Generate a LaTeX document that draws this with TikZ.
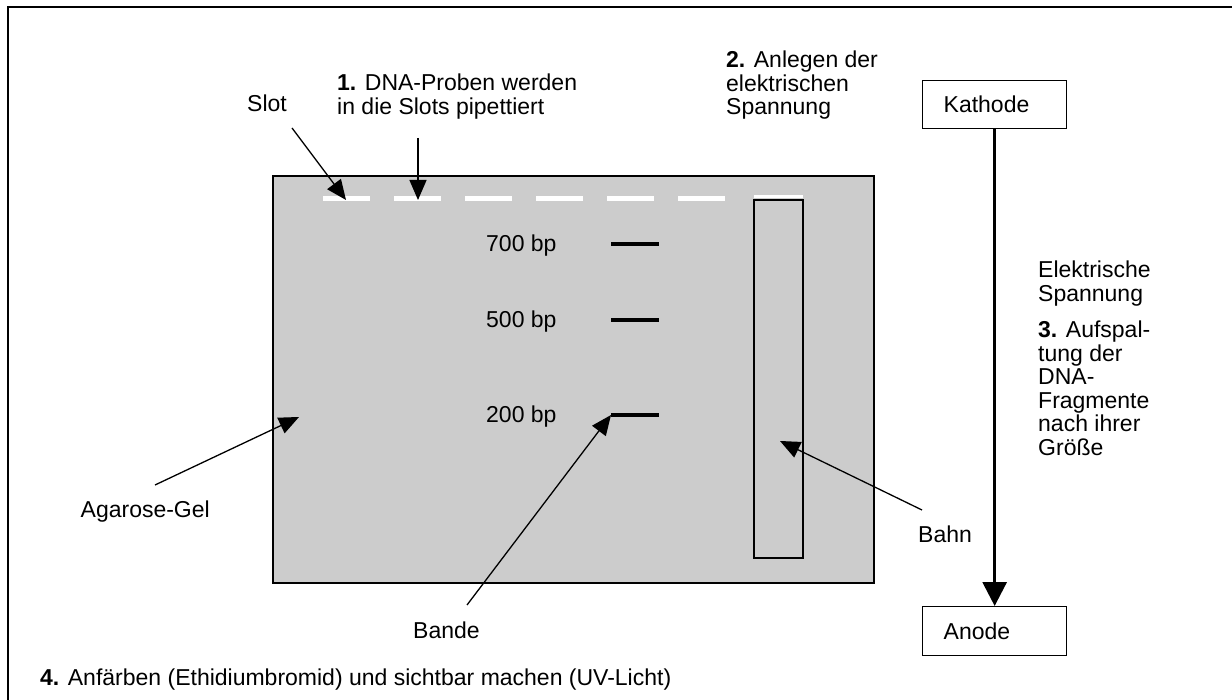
\documentclass[tikz,border=0pt]{standalone}
\usepackage{fontspec}
\setmainfont{Liberation Sans}
\usetikzlibrary{arrows.meta}
\definecolor{gelgray}{RGB}{204,204,204}
\begin{document}
\begin{tikzpicture}[x=1pt,y=-1pt,
  lbl/.style={anchor=base west, inner sep=0pt, font=\fontsize{23}{24}\selectfont},
  lble/.style={anchor=base east, inner sep=0pt, font=\fontsize{23}{24}\selectfont},
  ptr/.style={line width=1.3pt, -{Triangle[length=20pt,width=17pt]}},
  ebox/.style={draw, line width=1.3pt, fill=white, anchor=north west, minimum width=144pt,
    minimum height=48pt, text width=102pt, inner xsep=21pt, align=left,
    font=\fontsize{23}{24}\selectfont},
  band/.style={line width=3.5pt},
  slotdash/.style={white, line width=5pt}]
\useasboundingbox (0,0) rectangle (1232,700);
% outer frame
\draw[line width=1.5pt] (8,700) -- (8,7) -- (1232,7);
% gel
\draw[fill=gelgray, line width=1.5pt] (273,176) rectangle (874,583);
% slots
\foreach \x in {323,394,465,536,607,678} \draw[slotdash] (\x,199) -- ++(47,0);
% lane
\draw[line width=1.3pt] (754,200) rectangle (803,558);
\draw[white, line width=3pt] (754,197) -- (803,197);
% bands
\draw[band] (611,244) coordinate (b7) -- (659,244);
\draw[band] (611,320) coordinate (b5) -- (659,320);
\draw[band] (611,415) coordinate (b2) -- (659,415);
\node[lbl] (l7) at (486,252) {700 bp};
\node[lbl] (l5) at (486,328) {500 bp};
\node[lbl] (l2) at (486,423) {200 bp};
% texts
\node[lbl] (slot) at (247,112) {Slot};
\node[lbl] (t1a) at (337,91) {\textbf{1.} DNA-Proben werden};
\node[lbl] (t1b) at (337,115) {in die Slots pipettiert};
\node[lbl] (t2a) at (726,68) {\textbf{2.} Anlegen der};
\node[lbl] (t2b) at (726,92) {elektrischen};
\node[lbl] (t2c) at (726,115) {Spannung};
\node[lbl] (e1) at (1038,278) {Elektrische};
\node[lbl] (e2) at (1038,302) {Spannung};
\node[lbl] (s1) at (1038,338) {\textbf{3.} Aufspal-};
\node[lbl] (s2) at (1038,362) {tung der};
\node[lbl] (s3) at (1038,385) {DNA-};
\node[lbl] (s4) at (1038,409) {Fragmente};
\node[lbl] (s5) at (1038,432) {nach ihrer};
\node[lbl] (s6) at (1038,456) {Größe};
\node[lble] (agar) at (210,517) {Agarose-Gel};
\node[lbl] (bande) at (413,638) {Bande};
\node[lbl] (bahn) at (918,542) {Bahn};
\node[lbl] (t4) at (40,685) {\textbf{4.} Anfärben (Ethidiumbromid) und sichtbar machen (UV-Licht)};
% electrodes
\node[ebox] (kath) at (922,80) {Kathode};
\node[ebox, minimum height=49pt] (anode) at (922,606) {Anode};
\draw[line width=3pt, -{Triangle[length=24pt,width=24pt]}] (kath.south) -- (anode.north);
% pointer arrows
\coordinate (slotT) at (292,128);
\coordinate (slotH) at (346,200);
\draw[ptr] (slotT) -- (slotH);
\coordinate (oneT) at (418,138);
\coordinate (oneH) at (418,200);
\draw[ptr] (oneT) -- (oneH);
\coordinate (agT) at (155,485);
\coordinate (agH) at (299,417);
\draw[ptr] (agT) -- (agH);
\coordinate (baT) at (467,605);
\draw[ptr] (baT) -- (b2);
\coordinate (bhT) at (922,510);
\coordinate (bhH) at (780,441);
\draw[ptr] (bhT) -- (bhH);
\end{tikzpicture}
\end{document}
